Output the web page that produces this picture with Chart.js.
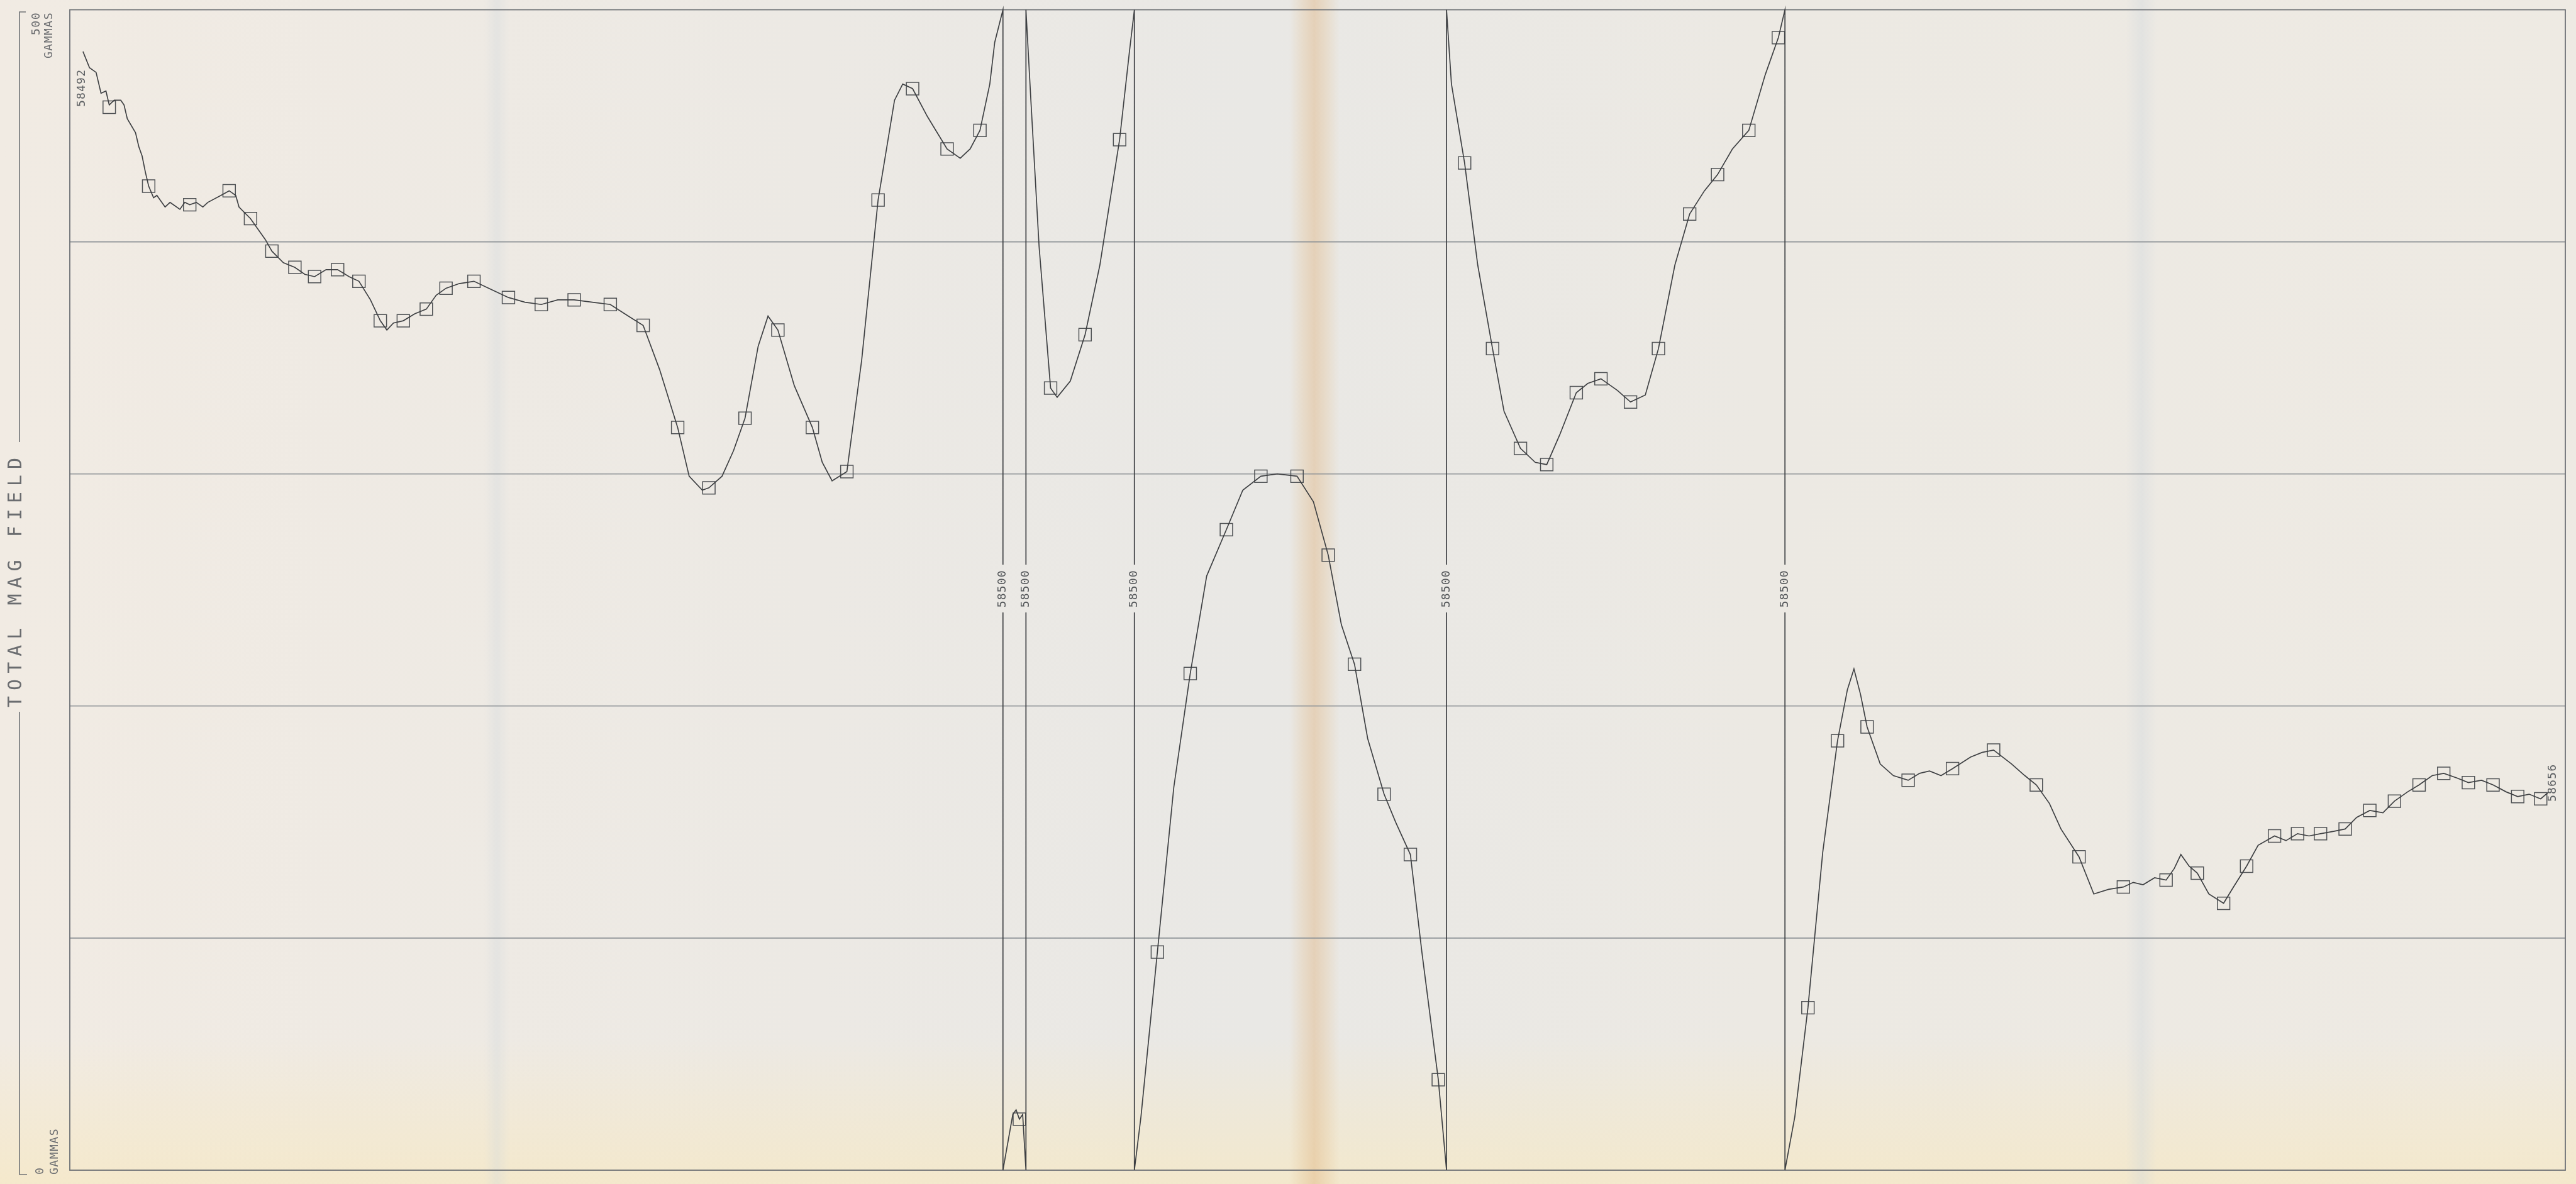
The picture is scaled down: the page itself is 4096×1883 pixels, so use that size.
<!DOCTYPE html>
<html lang="en">
<head>
  <meta charset="UTF-8">
  <title>Total Mag Field</title>
  <script src="https://cdn.jsdelivr.net/npm/chart.js"></script>
  <style>
    html, body { margin: 0; padding: 0; }
    body {
      width: 4096px;
      height: 1883px;
      overflow: hidden;
      background:
        linear-gradient(to right, transparent 2050px, rgba(226,186,134,0.28) 2072px, rgba(222,176,122,0.42) 2090px, rgba(226,186,134,0.28) 2108px, transparent 2130px),
        linear-gradient(to right, transparent 3380px, rgba(205,214,220,0.35) 3405px, transparent 3430px),
        linear-gradient(to right, transparent 770px, rgba(205,214,220,0.3) 790px, transparent 810px),
        linear-gradient(to bottom, transparent 1650px, rgba(246,232,196,0.75) 1883px),
        linear-gradient(to right, #f1ebe3 0px, #ece9e4 1300px, #e9e8e5 2000px, #ece9e3 2800px, #eeeae3 4096px);
    }
    #wrap { position: relative; width: 4096px; height: 1883px; }
  </style>
</head>
<body>
  <div id="wrap">
    <canvas id="magChart" width="4096" height="1883"></canvas>
  </div>

  <script>
    // plotter wraps the trace every 500 gammas
    const BASE = 58000;
    const WRAP = 58500;
    const SPAN = 500;

    // position along track (plot units) and total field (gammas)
    const tracePos = [
      8, 12, 16, 19, 22, 24, 27, 31, 33, 35,
      40, 42, 44, 46, 48, 51, 53, 58, 61, 63,
      67, 70, 73, 77, 81, 84, 92, 97, 101, 103,
      110, 119, 123, 130, 137, 143, 149, 156, 163, 170,
      176, 183, 189, 193, 197, 203, 210, 217, 223, 229,
      237, 246, 255, 267, 277, 287, 297, 307, 318, 329,
      340, 349, 359, 370, 377, 385, 389, 397, 404, 411,
      419, 425, 431, 441, 452, 458, 464, 473, 482, 492,
      502, 507, 513, 522, 534, 542, 548, 554, 560, 563,
      568,
      574, 576, 578, 580, 582,
      585, 590, 597, 601, 609, 618, 627, 639, 645, 648,
      652, 662, 672, 682, 692, 704, 714, 725, 735, 747,
      757, 766, 774, 782, 790, 800, 807, 816, 823, 833,
      838,
      841, 849, 857, 866, 873, 883, 892, 899, 907, 917,
      924, 932, 942, 950, 959, 967, 977, 986, 995, 1003,
      1012, 1022, 1032, 1040, 1044,
      1050, 1058, 1067, 1076, 1082, 1086, 1090, 1094, 1102, 1110,
      1119, 1126, 1132, 1139, 1146, 1157, 1164, 1171, 1182, 1190,
      1197, 1205, 1212, 1223, 1232, 1241, 1250, 1256, 1262, 1269,
      1276, 1281, 1285, 1290, 1295, 1302, 1311, 1317, 1325, 1332,
      1342, 1349, 1356, 1363, 1370, 1378, 1385, 1392, 1400, 1408,
      1415, 1423, 1430, 1438, 1445, 1453, 1460, 1468, 1475, 1483,
      1490, 1497, 1504, 1509
    ];
    const traceField = [
      58482, 58475, 58473, 58464, 58465, 58459, 58461, 58461, 58459, 58453,
      58447, 58441, 58437, 58430, 58424, 58419, 58420, 58415, 58417, 58416,
      58414, 58417, 58416, 58417, 58415, 58417, 58420, 58422, 58420, 58415,
      58410, 58401, 58396, 58391, 58389, 58386, 58385, 58388, 58388, 58385,
      58383, 58375, 58366, 58362, 58365, 58366, 58369, 58371, 58377, 58380,
      58382, 58383, 58380, 58376, 58374, 58373, 58375, 58375, 58374, 58373,
      58368, 58364, 58345, 58320, 58299, 58293, 58294, 58299, 58310, 58324,
      58355, 58368, 58362, 58338, 58320, 58305, 58297, 58301, 58349, 58418,
      58461, 58468, 58466, 58454, 58440, 58436, 58440, 58448, 58468, 58486,
      58500,
      58524, 58526, 58522, 58524, 58500,
      58461, 58398, 58337, 58333, 58340, 58360, 58390, 58444, 58482, 58500,
      58523, 58594, 58665, 58714, 58756, 58776, 58793, 58799, 58800, 58799,
      58788, 58765, 58735, 58718, 58686, 58662, 58650, 58636, 58594, 58539,
      58500,
      58468, 58434, 58390, 58354, 58327, 58311, 58305, 58304, 58317, 58335,
      58339, 58341, 58336, 58331, 58334, 58354, 58390, 58412, 58422, 58429,
      58440, 58448, 58472, 58488, 58500,
      58523, 58570, 58637, 58685, 58707, 58716, 58705, 58691, 58675, 58670,
      58668, 58671, 58672, 58670, 58673, 58678, 58680, 58681, 58675, 58670,
      58666, 58658, 58647, 58635, 58619, 58621, 58622, 58624, 58623, 58626,
      58625, 58630, 58636, 58631, 58628, 58619, 58615, 58622, 58631, 58640,
      58644, 58642, 58645, 58644, 58645, 58646, 58647, 58652, 58655, 58654,
      58659, 58663, 58666, 58670, 58671, 58669, 58667, 58668, 58666, 58663,
      58661, 58662, 58660, 58663
    ];

    // fix marks (squares)
    const fixPos = [
      24, 48, 73, 97, 110, 123, 137, 149, 163, 176,
      189, 203, 217, 229, 246, 267, 287, 307, 329, 349,
      370, 389, 411, 431, 452, 473, 492, 513, 534, 554,
      578, 597, 618, 639, 662, 682, 704, 725, 747, 766,
      782, 800, 816, 833, 849, 866, 883, 899, 917, 932,
      950, 967, 986, 1003, 1022, 1040, 1058, 1076, 1094, 1119,
      1146, 1171, 1197, 1223, 1250, 1276, 1295, 1311, 1325, 1342,
      1356, 1370, 1385, 1400, 1415, 1430, 1445, 1460, 1475, 1490,
      1504
    ];
    const fixField = [
      58458, 58424, 58416, 58422, 58410, 58396, 58389, 58385, 58388, 58383,
      58366, 58366, 58371, 58380, 58383, 58376, 58373, 58375, 58373, 58364,
      58320, 58294, 58324, 58362, 58320, 58301, 58418, 58466, 58440, 58448,
      58522, 58337, 58360, 58444, 58594, 58714, 58776, 58799, 58799, 58765,
      58718, 58662, 58636, 58539, 58434, 58354, 58311, 58304, 58335, 58341,
      58331, 58354, 58412, 58429, 58448, 58488, 58570, 58685, 58691, 58668,
      58673, 58681, 58666, 58635, 58622, 58625, 58628, 58615, 58631, 58644,
      58645, 58645, 58647, 58655, 58659, 58666, 58671, 58667, 58666, 58661,
      58660
    ];

    const gridLevels = [100, 200, 300, 400];
    const startLabel = '58492';
    const endLabel = '58656';
    const wrapLabel = String(WRAP);

    const ink = '#3e4043';
    const gridInk = '#8d9296';
    const textInk = '#6a6c6f';
    const mono = '"DejaVu Sans Mono", "Liberation Mono", monospace';

    function wrapped(f) {
      return f < WRAP ? f - BASE : f - WRAP;
    }

    // trace with vertical jumps where the pen wraps
    const tracePts = [];
    const wrapXs = [];
    tracePos.forEach((x, i) => {
      const f = traceField[i];
      if (f === WRAP) {
        const rising = traceField[i - 1] < WRAP;
        tracePts.push({ x: x, y: rising ? SPAN : 0 }, { x: x, y: rising ? 0 : SPAN });
        wrapXs.push(x);
      } else {
        tracePts.push({ x: x, y: wrapped(f) });
      }
    });
    const fixPts = fixPos.map((x, i) => ({ x: x, y: wrapped(fixField[i]) }));

    function vText(ctx, str, x, y, align, size, spacing) {
      ctx.save();
      ctx.translate(x, y);
      ctx.rotate(-Math.PI / 2);
      ctx.font = size + 'px ' + mono;
      ctx.letterSpacing = spacing + 'px';
      ctx.textAlign = align;
      ctx.textBaseline = 'middle';
      ctx.fillText(str, 0, 0);
      ctx.restore();
    }

    const plotterInk = {
      id: 'plotterInk',
      beforeDatasetsDraw(chart) {
        const { ctx, chartArea: a, scales: { y } } = chart;
        ctx.save();
        ctx.strokeStyle = gridInk;
        ctx.lineWidth = 1.6;
        gridLevels.forEach(g => {
          const py = y.getPixelForValue(g);
          ctx.beginPath();
          ctx.moveTo(a.left, py);
          ctx.lineTo(a.right, py);
          ctx.stroke();
        });
        ctx.strokeStyle = '#6e7276';
        ctx.lineWidth = 1.8;
        ctx.strokeRect(a.left, a.top, a.right - a.left, a.bottom - a.top);

        // left bracket for the axis title
        ctx.strokeStyle = '#707376';
        ctx.lineWidth = 1.6;
        ctx.beginPath();
        ctx.moveTo(41, 19); ctx.lineTo(31, 19); ctx.lineTo(31, 703);
        ctx.moveTo(31, 1132); ctx.lineTo(31, 1868); ctx.lineTo(43, 1868);
        ctx.stroke();

        ctx.fillStyle = textInk;
        vText(ctx, 'TOTAL MAG FIELD', 26, 922, 'center', 30, 9);
        vText(ctx, '500', 58, 19, 'right', 18, 1.5);
        vText(ctx, 'GAMMAS', 78, 19, 'right', 18, 1.5);
        vText(ctx, '0', 64, 1868, 'left', 18, 1.5);
        vText(ctx, 'GAMMAS', 87, 1868, 'left', 18, 1.5);
        ctx.restore();
      },
      afterDatasetsDraw(chart) {
        const { ctx, chartArea: a, scales: { x } } = chart;
        const cy = (a.top + a.bottom) / 2 - 2;
        ctx.save();
        wrapXs.forEach(v => {
          const px = x.getPixelForValue(v);
          ctx.clearRect(px - 8, cy - 38, 16, 76);
          ctx.fillStyle = '#55585b';
          vText(ctx, wrapLabel, px, cy, 'center', 18, 1.2);
        });
        ctx.fillStyle = '#5c5f62';
        vText(ctx, startLabel, 130, 170, 'left', 18, 1.2);
        vText(ctx, endLabel, 4059, 1275, 'left', 18, 1.2);
        ctx.restore();
      }
    };

    new Chart(document.getElementById('magChart'), {
      type: 'line',
      data: {
        datasets: [
          {
            label: 'Total field',
            data: tracePts,
            borderColor: ink,
            borderWidth: 1.7,
            pointRadius: 0,
            tension: 0,
            fill: false,
            clip: false
          },
          {
            label: 'Fixes',
            data: fixPts,
            showLine: false,
            pointStyle: 'rect',
            pointRadius: 14,
            pointBorderWidth: 1.5,
            pointBorderColor: '#4f5255',
            pointBackgroundColor: 'transparent',
            clip: false
          }
        ]
      },
      options: {
        responsive: false,
        animation: false,
        devicePixelRatio: 1,
        layout: { padding: { left: 111, top: 13, right: 17, bottom: 22 } },
        scales: {
          x: { type: 'linear', min: 0, max: 1519, display: false },
          y: { type: 'linear', min: 0, max: SPAN, display: false }
        },
        plugins: {
          legend: { display: false },
          tooltip: { enabled: false }
        }
      },
      plugins: [plotterInk]
    });
  </script>
</body>
</html>
